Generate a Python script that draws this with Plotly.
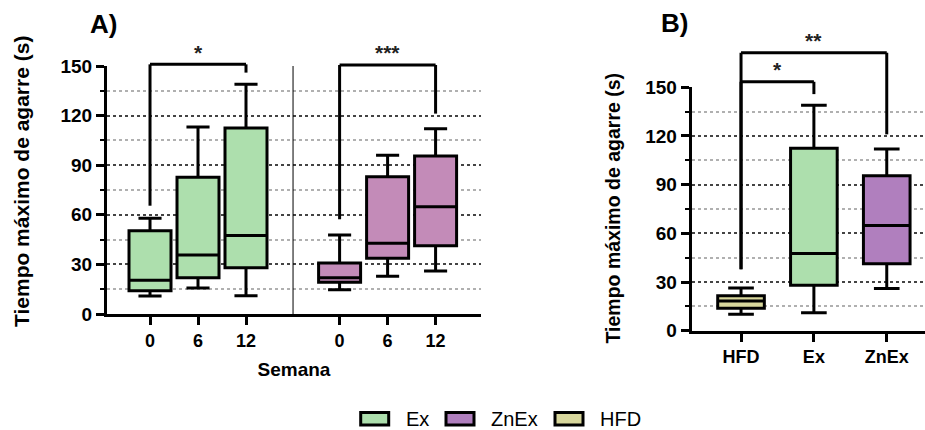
import plotly.graph_objects as go

# ---------------- data ----------------
weeks = ["0", "6", "12"]
# Panel A - Ex (weeks 0, 6, 12)
ex_low = [10.9, 15.7, 11.0]
ex_q1 = [14.1, 22.0, 28.0]
ex_med = [20.4, 35.7, 47.5]
ex_q3 = [50.4, 82.7, 112.5]
ex_high = [57.9, 113.1, 139.0]
# Panel A - ZnEx (weeks 0, 6, 12)
zn_low = [14.7, 22.8, 26.0]
zn_q1 = [19.2, 33.7, 41.3]
zn_med = [22.0, 42.8, 64.8]
zn_q3 = [30.9, 83.0, 95.5]
zn_high = [47.8, 96.0, 112.0]
# Panel B
groups = ["HFD", "Ex", "ZnEx"]
b_low = [10.1, 11.0, 26.0]
b_q1 = [13.8, 28.0, 41.3]
b_med = [18.3, 47.5, 64.8]
b_q3 = [21.6, 112.5, 95.5]
b_high = [26.3, 139.0, 112.0]

# significance brackets: (x_left, x_right, y_top, y_left_end, y_right_end, label, y_label)
brackets_A = [(0, 2, 151, 65.5, 146, "*", 158),
              (3.95, 5.95, 150.6, 57.3, 121.2, "***", 158)]
brackets_B = [(0, 1, 153.4, 37.8, 145.8, "*", 161),
              (0, 2, 171.3, 37.8, 121.0, "**", 179)]

# ---------------- style ----------------
GREEN = "#ADDFAD"
PURPLE_A = "#C38BB8"
PURPLE_B = "#B07FBE"
HFD_C = "#D8D79C"
FONT = "Liberation Sans"

posA_ex = [0, 1, 2]
posA_zn = [3.95, 4.95, 5.95]
posB = [0, 1, 2]

A_X_DOM = [107 / 925, 481 / 925]
A_Y_DOM = [1 - 314 / 430, 1 - 66 / 430]
B_X_DOM = [691.7 / 925, 1.0]
B_Y_DOM = [1 - 330.7 / 430, 1 - 87.3 / 430]
YMAX = 150


def ypaper(v, dom):
    return dom[0] + v / YMAX * (dom[1] - dom[0])


fig = go.Figure()

box_line = dict(color="black", width=3)


def add_box(x, lo, q1, med, q3, hi, color, width, xa, ya):
    fig.add_trace(go.Box(x=[x], lowerfence=[lo], q1=[q1], median=[med], q3=[q3],
                         upperfence=[hi], width=width, whiskerwidth=0.55,
                         fillcolor=color, line=box_line, boxpoints=False,
                         xaxis=xa, yaxis=ya, showlegend=False, hoverinfo="skip"))


for i in range(3):
    add_box(posA_ex[i], ex_low[i], ex_q1[i], ex_med[i], ex_q3[i], ex_high[i], GREEN, 0.875, "x", "y")
    add_box(posA_zn[i], zn_low[i], zn_q1[i], zn_med[i], zn_q3[i], zn_high[i], PURPLE_A, 0.875, "x", "y")
b_colors = [HFD_C, GREEN, PURPLE_B]
for i in range(3):
    add_box(posB[i], b_low[i], b_q1[i], b_med[i], b_q3[i], b_high[i], b_colors[i], 0.64, "x2", "y2")

shapes = []
annotations = []
# divider in panel A
shapes.append(dict(type="line", xref="x", yref="y", x0=2.98, x1=2.98, y0=0, y1=150,
                   line=dict(color="black", width=1)))


def add_bracket(b, xref, dom):
    x0, x1, yt, yl, yr, lab, ylab = b
    for (xa, xb, ya, yb) in [(x0, x0, yl, yt), (x0, x1, yt, yt), (x1, x1, yt, yr)]:
        shapes.append(dict(type="line", xref=xref, yref="paper", x0=xa, x1=xb,
                           y0=ypaper(ya, dom), y1=ypaper(yb, dom),
                           line=dict(color="black", width=3)))
    annotations.append(dict(xref=xref, yref="paper", x=(x0 + x1) / 2, y=ypaper(ylab, dom),
                            text="<b>" + lab + "</b>", showarrow=False, yanchor="middle",
                            font=dict(family=FONT, size=21, color="#222")))


for b in brackets_A:
    add_bracket(b, "x", A_Y_DOM)
for b in brackets_B:
    add_bracket(b, "x2", B_Y_DOM)

# panel letters
annotations.append(dict(xref="paper", yref="paper", x=88 / 925, y=1 - 24 / 430, text="<b>A)</b>",
                        showarrow=False, xanchor="left", yanchor="middle",
                        font=dict(family=FONT, size=26, color="black")))
annotations.append(dict(xref="paper", yref="paper", x=659 / 925, y=1 - 23 / 430, text="<b>B)</b>",
                        showarrow=False, xanchor="left", yanchor="middle",
                        font=dict(family=FONT, size=26, color="black")))
# y titles
annotations.append(dict(xref="paper", yref="paper", x=22 / 925, y=1 - 182 / 430,
                        text="<b>Tiempo máximo de agarre (s)</b>", textangle=-90,
                        showarrow=False, xanchor="center", yanchor="middle",
                        font=dict(family=FONT, size=21, color="black")))
annotations.append(dict(xref="paper", yref="paper", x=612 / 925, y=1 - 208.5 / 430,
                        text="<b>Tiempo máximo de agarre (s)</b>", textangle=-90,
                        showarrow=False, xanchor="center", yanchor="middle",
                        font=dict(family=FONT, size=19.5, color="black")))

# custom legend
legend_items = [("Ex", GREEN, 360.7), ("ZnEx", PURPLE_B, 446), ("HFD", HFD_C, 555)]
for name, col, lx in legend_items:
    shapes.append(dict(type="rect", xref="paper", yref="paper",
                       x0=lx / 925, x1=(lx + 28) / 925, y0=1 - 425 / 430, y1=1 - 412.5 / 430,
                       fillcolor=col, line=dict(color="black", width=3)))
    annotations.append(dict(xref="paper", yref="paper", x=(lx + 43) / 925, y=1 - 419 / 430,
                            text=name, showarrow=False, xanchor="left", yanchor="middle",
                            font=dict(family=FONT, size=20, color="black")))

axis_common = dict(showline=True, linecolor="black", linewidth=3, ticks="outside",
                   ticklen=8, tickwidth=3, tickcolor="black", zeroline=False,
                   automargin=False,
                   tickfont=dict(family=FONT, size=18, color="black", weight="bold"))
yaxis_common = dict(axis_common, range=[0, 150], tick0=0, dtick=30, showgrid=True,
                    gridcolor="#444444", griddash="dot", gridwidth=1.5,
                    tickfont=dict(family=FONT, size=19, color="black", weight="bold"),
                    minor=dict(dtick=15, tick0=0, showgrid=True, gridcolor="#b0b0b0",
                               griddash="dot", gridwidth=1.5, ticks="outside",
                               ticklen=4, tickwidth=2, tickcolor="black"))

fig.update_layout(
    width=925, height=430, margin=dict(l=0, r=0, t=0, b=0, autoexpand=False),
    paper_bgcolor="white", plot_bgcolor="white", showlegend=False,
    xaxis=dict(axis_common, domain=A_X_DOM, range=[-0.896, 6.896], showgrid=False,
               tickvals=posA_ex + posA_zn, ticktext=weeks + weeks, anchor="y",
               title=dict(text="<b>Semana</b>", font=dict(family=FONT, size=19, color="black"),
                          standoff=14)),
    yaxis=dict(yaxis_common, domain=A_Y_DOM, anchor="x"),
    xaxis2=dict(axis_common, domain=B_X_DOM, range=[-0.677, 2.525], showgrid=False,
                tickvals=posB, ticktext=groups, anchor="y2"),
    yaxis2=dict(yaxis_common, domain=B_Y_DOM, anchor="x2"),
    shapes=shapes, annotations=annotations,
)

fig.write_html("out.html")
